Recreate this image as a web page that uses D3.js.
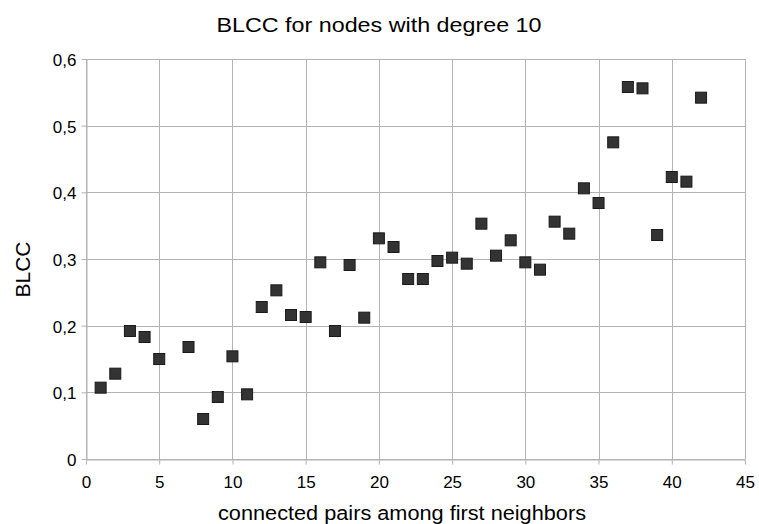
<!DOCTYPE html>
<html>
<head>
    <script src="https://d3js.org/d3.v7.min.js"></script>
    <style>
        body { margin: 0; background: white; }
        svg text { font-family: 'Liberation Sans', Arial, sans-serif; fill: #000; }
    </style>
</head>
<body>
<svg id="chart" width="759" height="524"></svg>
<script>
    // connected pairs among first neighbors (x) vs BLCC (y)
    var pairs = [1, 2, 3, 4, 5, 7, 8, 9, 10, 11, 12, 13, 14, 15, 16, 17, 18, 19, 20, 21,
                 22, 23, 24, 25, 26, 27, 28, 29, 30, 31, 32, 33, 34, 35, 36, 37, 38, 39, 40, 41, 42];
    var blcc = [0.107, 0.128, 0.192, 0.183, 0.150, 0.168, 0.060, 0.093, 0.154, 0.097,
                0.228, 0.253, 0.216, 0.213, 0.295, 0.192, 0.291, 0.212, 0.331, 0.318,
                0.270, 0.270, 0.297, 0.302, 0.293, 0.353, 0.305, 0.328, 0.295, 0.284,
                0.356, 0.338, 0.406, 0.384, 0.475, 0.558, 0.556, 0.336, 0.423, 0.416, 0.542];
    var xTicks = [0, 5, 10, 15, 20, 25, 30, 35, 40, 45];
    var yTicks = [0, 0.1, 0.2, 0.3, 0.4, 0.5, 0.6];

    var title = 'BLCC for nodes with degree 10';
    var xLabel = 'connected pairs among first neighbors';
    var yLabel = 'BLCC';

    var plotLeft = 86, plotRight = 745, plotTop = 59, plotBottom = 459;
    var svg = d3.select('#chart');
    var gridColor = '#b3b3b3';

    var x = d3.scaleLinear().domain([0, 45]).range([plotLeft, plotRight]);
    var y = d3.scaleLinear().domain([0, 0.6]).range([plotBottom, plotTop]);
    var fmt = function (d) { return d === 0 ? '0' : d3.format('.1f')(d).replace('.', ','); };

    // grid
    svg.append('g').selectAll('line').data(xTicks).join('line')
        .attr('x1', d => Math.round(x(d)) + 0.5).attr('x2', d => Math.round(x(d)) + 0.5)
        .attr('y1', plotTop).attr('y2', plotBottom)
        .attr('stroke', gridColor).attr('stroke-width', 1);
    svg.append('g').selectAll('line').data(yTicks).join('line')
        .attr('y1', d => Math.round(y(d)) + 0.5).attr('y2', d => Math.round(y(d)) + 0.5)
        .attr('x1', plotLeft).attr('x2', plotRight)
        .attr('stroke', gridColor).attr('stroke-width', 1);

    // axes
    var xAxis = svg.append('g')
        .attr('transform', 'translate(0,' + (Math.round(y(0)) + 0.5) + ')')
        .call(d3.axisBottom(x).tickValues(xTicks).tickSize(5).tickPadding(11).tickSizeOuter(0));
    var yAxis = svg.append('g')
        .attr('transform', 'translate(' + (Math.round(x(0)) + 0.5) + ',0)')
        .call(d3.axisLeft(y).tickValues(yTicks).tickFormat(fmt).tickSize(5).tickPadding(5).tickSizeOuter(0));
    [xAxis, yAxis].forEach(function (a) {
        a.select('.domain').attr('stroke', gridColor);
        a.selectAll('.tick line').attr('stroke', gridColor);
        a.selectAll('.tick text').attr('font-size', 17).attr('fill', '#000')
            .style('font-family', "'Liberation Sans', Arial, sans-serif");
    });
    yAxis.selectAll('.tick text').attr('dy', '0.38em');

    // points
    var size = 11;
    svg.append('g').selectAll('rect').data(pairs).join('rect')
        .attr('x', (d, i) => x(d) - size / 2)
        .attr('y', (d, i) => y(blcc[i]) - size / 2)
        .attr('width', size).attr('height', size)
        .attr('fill', '#333333')
        .attr('stroke', '#1a1a1a').attr('stroke-width', 1);

    // labels
    svg.append('text').attr('x', 379).attr('y', 31.5)
        .attr('text-anchor', 'middle').attr('font-size', 21)
        .attr('textLength', 325).attr('lengthAdjust', 'spacingAndGlyphs').text(title);
    svg.append('text').attr('x', 402).attr('y', 520)
        .attr('text-anchor', 'middle').attr('font-size', 20)
        .attr('textLength', 368).attr('lengthAdjust', 'spacingAndGlyphs').text(xLabel);
    svg.append('text').attr('transform', 'translate(30,269.5) rotate(-90)')
        .attr('text-anchor', 'middle').attr('font-size', 21).text(yLabel);
</script>
</body>
</html>
